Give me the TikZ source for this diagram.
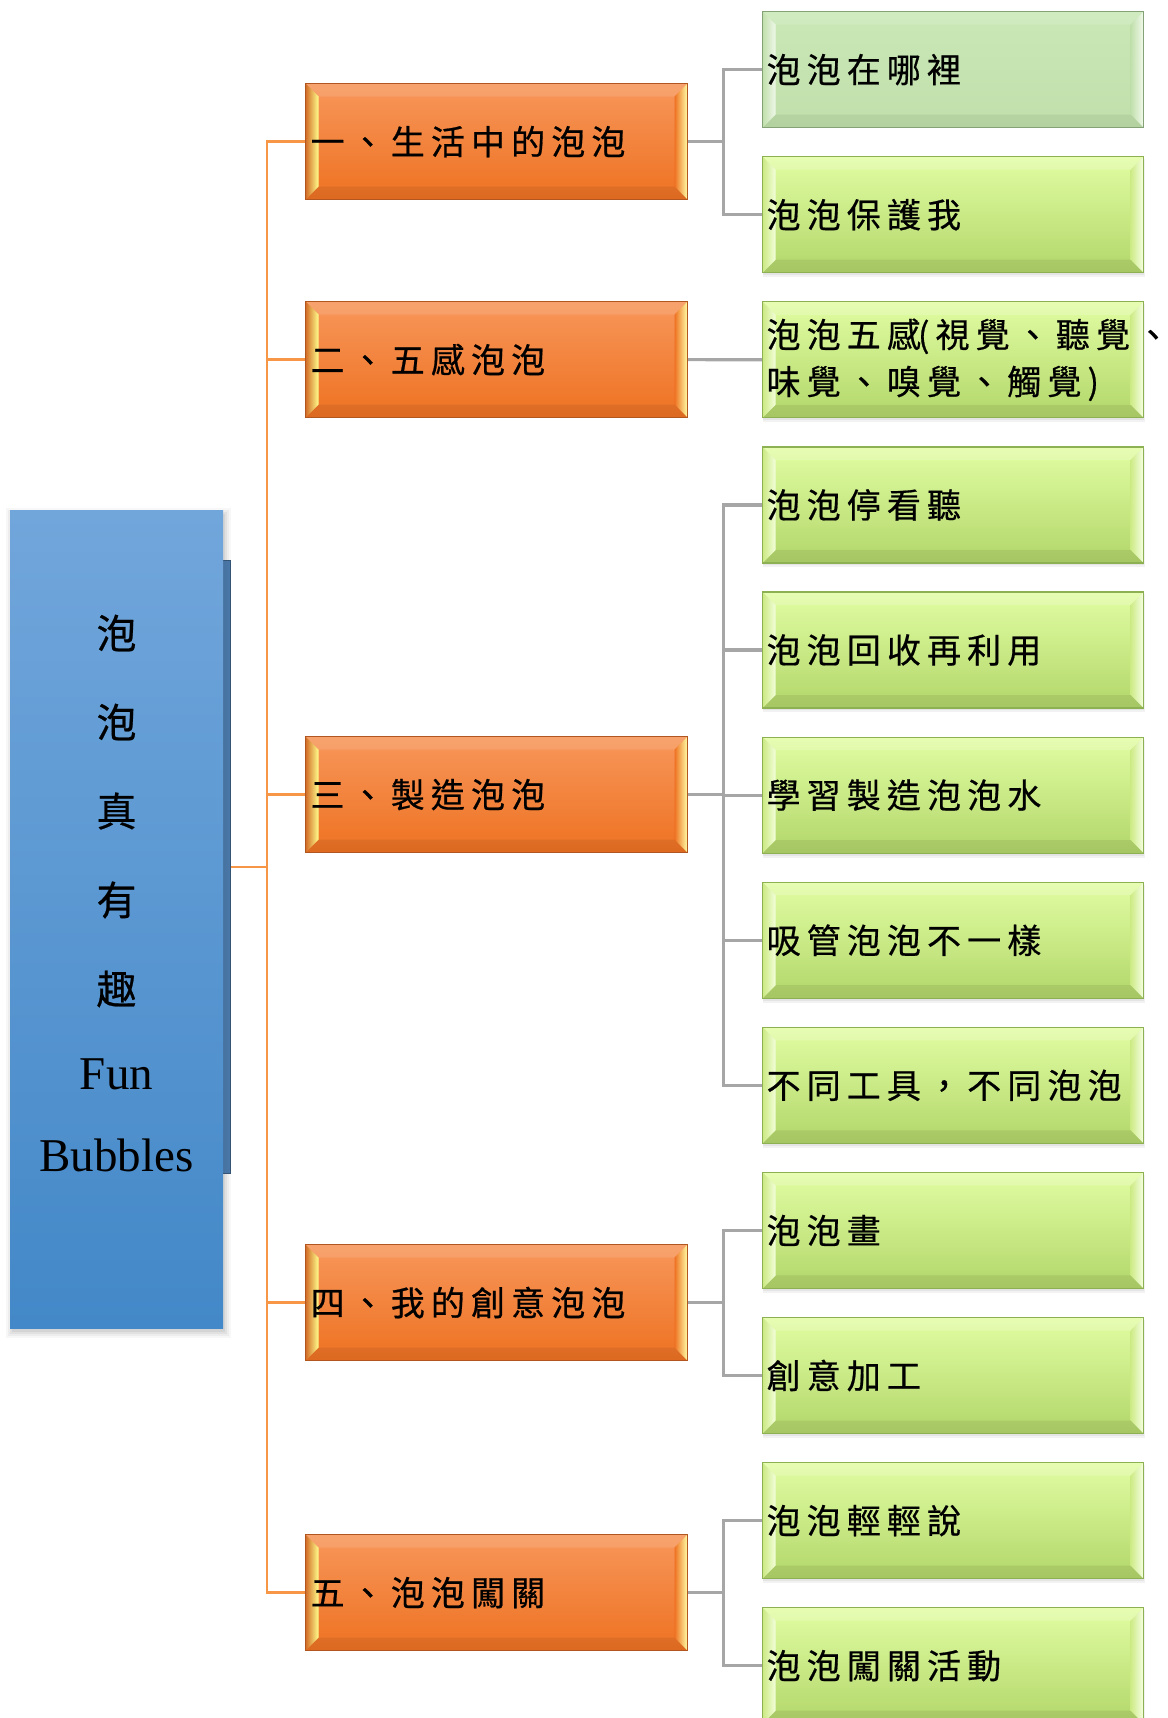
\documentclass[tikz,border=0pt]{standalone}
\usepackage{fontspec}
\setmainfont{Liberation Serif}
\newfontfamily\cjk{Noto Sans CJK TC}[FakeBold=0.6]
\newfontfamily\cjksp{Noto Sans CJK TC}[LetterSpace=18,FakeBold=0.6]
\usetikzlibrary{calc}
\definecolor{otop}{HTML}{F7965A}
\definecolor{omid}{HTML}{F77F2E}
\definecolor{obot}{HTML}{EE7222}
\definecolor{oborder}{HTML}{B0561E}
\definecolor{gtop}{HTML}{E1FDA2}
\definecolor{gmid}{HTML}{CDEB86}
\definecolor{gbot}{HTML}{B2D66A}
\definecolor{gborder}{HTML}{8DB052}
\definecolor{ltop}{HTML}{C9E8B6}
\definecolor{lbot}{HTML}{C0DFAB}
\definecolor{lborder}{HTML}{84A276}
\definecolor{btop}{HTML}{71A6DB}
\definecolor{bbot}{HTML}{4388C8}
\definecolor{bstripc}{HTML}{4A78A8}
\definecolor{linegray}{HTML}{A6A6A6}
\definecolor{lineorange}{HTML}{F79646}
\newcommand\bvl[5]{%
\path[#1] (path picture bounding box.north west) -- (path picture bounding box.north east) -- ([shift={(-#5,-#5)}]path picture bounding box.north east) -- ([shift={(#5,-#5)}]path picture bounding box.north west) -- cycle;
\path[#2] (path picture bounding box.north east) -- (path picture bounding box.south east) -- ([shift={(-#5,#5)}]path picture bounding box.south east) -- ([shift={(-#5,-#5)}]path picture bounding box.north east) -- cycle;
\path[#3] (path picture bounding box.south east) -- (path picture bounding box.south west) -- ([shift={(#5,#5)}]path picture bounding box.south west) -- ([shift={(-#5,#5)}]path picture bounding box.south east) -- cycle;
\path[#4] (path picture bounding box.south west) -- (path picture bounding box.north west) -- ([shift={(#5,-#5)}]path picture bounding box.north west) -- ([shift={(#5,#5)}]path picture bounding box.south west) -- cycle;
}
\newcommand\softshadow[4]{%
\foreach \k/\op in {6/0.03,4/0.04,2/0.05,0/0.06}{%
\fill[black,opacity=\op] (#1-\k+2,#2-\k+4) rectangle (#3+\k+2,#4+\k+4);}%
}
\newcommand\boxfont{\cjksp\fontsize{34}{47}\selectfont}
\begin{document}
\begin{tikzpicture}[x=1pt,y=-1pt,
  basebox/.style={rectangle, anchor=north west, inner ysep=0pt, align=left, line width=1.2pt, font=\boxfont},
  gbox/.style={basebox, minimum width=381pt, minimum height=116pt, text width=373pt, inner xsep=4pt,
    draw=gborder, top color=gtop, middle color=gmid, bottom color=gbot,
    path picture={\bvl{fill=white,opacity=0.18}{left color=gmid,right color=white!70!gtop}{fill=black,opacity=0.07}{left color=gmid!90!gbot,right color=white!60!gtop}{13pt}}},
  lbox/.style={basebox, minimum width=381pt, minimum height=116pt, text width=373pt, inner xsep=4pt,
    draw=lborder, top color=ltop, bottom color=lbot,
    path picture={\bvl{fill=white,opacity=0.15}{left color=lbot,right color=white!75!ltop}{fill=black,opacity=0.06}{left color=lbot,right color=white!70!ltop}{13pt}}},
  obox/.style={basebox, minimum width=382pt, minimum height=116pt, text width=372pt, inner xsep=5pt,
    draw=oborder, top color=otop, middle color=omid, bottom color=obot,
    path picture={\bvl{fill=white,opacity=0.12}{left color=obot,right color=yellow!35!white}{fill=black,opacity=0.07}{left color=omid!85!black,right color=yellow!45!white}{13pt}}},
  gline/.style={draw=linegray, line width=3.2pt, line join=miter},
  oline/.style={draw=lineorange, line width=2.5pt, line join=miter},
  rlabel/.style={inner sep=0pt, anchor=center, text=black}
]
\useasboundingbox (0,0) rectangle (1167,1718);
% shadows
\softshadow{10}{510}{223}{1328}
\foreach \i in {1,...,11}{%
  \pgfmathsetmacro\yt{11+145.1*\i}%
  \pgfmathsetmacro\yb{\yt+116}%
  \fill[black,opacity=0.05] (763,\yt+3) rectangle (1145,\yb+5);
  \fill[black,opacity=0.06] (763,\yt+2) rectangle (1144,\yb+3);
}
% root
\node[rectangle, anchor=north west, minimum width=30pt, minimum height=613pt, inner sep=0pt,
  left color=bstripc!80!black, right color=bstripc, draw=bstripc!70!black, line width=0.6pt] (bstrip) at (200,560) {};
\node[rectangle, anchor=north west, minimum width=213pt, minimum height=818pt, inner sep=0pt,
  top color=btop, bottom color=bbot] (root) at (10,510) {};
\node[rlabel, font=\cjk\fontsize{40}{40}\selectfont] (r1) at (116.5,633) {泡};
\node[rlabel, font=\cjk\fontsize{40}{40}\selectfont] (r2) at (116.5,722) {泡};
\node[rlabel, font=\cjk\fontsize{40}{40}\selectfont] (r3) at (116.5,811) {真};
\node[rlabel, font=\cjk\fontsize{40}{40}\selectfont] (r4) at (116.5,900) {有};
\node[rlabel, font=\cjk\fontsize{40}{40}\selectfont] (r5) at (116.5,989) {趣};
\node[rlabel, font=\fontsize{47}{47}\selectfont] (r6) at (116.5,1074) {Fun};
\node[rlabel, font=\fontsize{47}{47}\selectfont] (r7) at (116.5,1155) {Bubbles};
% level 1
\node[obox] (o1) at (305,83) {一、生活中的泡泡};
\node[obox] (o2) at (305,301) {二、五感泡泡};
\node[obox] (o3) at (305,736) {三、製造泡泡};
\node[obox] (o4) at (305,1244) {四、我的創意泡泡};
\node[obox] (o5) at (305,1534) {五、泡泡闖關};
% level 2
\node[lbox] (g1) at (762,11) {泡泡在哪裡};
\node[gbox] (g2) at (762,156.1) {泡泡保護我};
\node[gbox] (g3) at (762,301.2) {泡泡五感\kern-3pt(視覺、聽覺、\\味覺、嗅覺、觸覺)};
\node[gbox] (g4) at (762,446.3) {泡泡停看聽};
\node[gbox] (g5) at (762,591.4) {泡泡回收再利用};
\node[gbox] (g6) at (762,736.5) {學習製造泡泡水};
\node[gbox] (g7) at (762,881.6) {吸管泡泡不一樣};
\node[gbox] (g8) at (762,1026.7) {不同工具，不同泡泡};
\node[gbox] (g9) at (762,1171.8) {泡泡畫};
\node[gbox] (g10) at (762,1316.9) {創意加工};
\node[gbox] (g11) at (762,1462) {泡泡輕輕說};
\node[gbox] (g12) at (762,1607.1) {泡泡闖關活動};
% connectors
\coordinate (obus) at (267,0);
\coordinate (gbus) at (723.5,0);
\draw[oline] (bstrip.east) -- (obus |- bstrip.east);
\draw[oline] (o1.west) -- (obus |- o1.west) -- (obus |- o5.west) -- (o5.west);
\draw[oline] (obus |- o2.west) -- (o2.west);
\draw[oline] (obus |- o3.west) -- (o3.west);
\draw[oline] (obus |- o4.west) -- (o4.west);
\draw[gline] (o1.east) -- (gbus |- o1.east);
\draw[gline] (g1.west) -- (gbus |- g1.west) -- (gbus |- g2.west) -- (g2.west);
\draw[gline] (o2.east) -- (g3.west);
\draw[gline] (o3.east) -- (gbus |- o3.east);
\draw[gline] (g4.west) -- (gbus |- g4.west) -- (gbus |- g8.west) -- (g8.west);
\draw[gline] (gbus |- g5.west) -- (g5.west);
\draw[gline] (gbus |- g6.west) -- (g6.west);
\draw[gline] (gbus |- g7.west) -- (g7.west);
\draw[gline] (o4.east) -- (gbus |- o4.east);
\draw[gline] (g9.west) -- (gbus |- g9.west) -- (gbus |- g10.west) -- (g10.west);
\draw[gline] (o5.east) -- (gbus |- o5.east);
\draw[gline] (g11.west) -- (gbus |- g11.west) -- (gbus |- g12.west) -- (g12.west);
\end{tikzpicture}
\end{document}
